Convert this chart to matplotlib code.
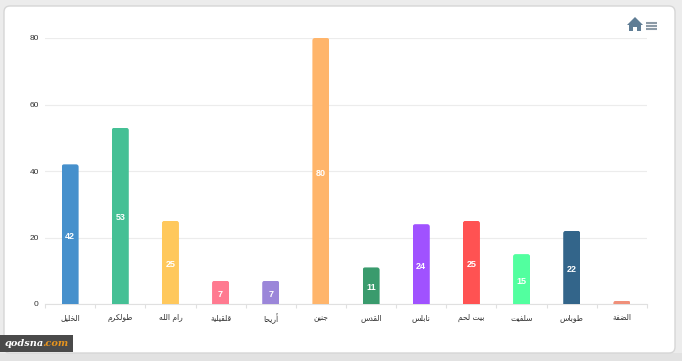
import matplotlib
matplotlib.use('Agg')
import matplotlib.pyplot as plt
from matplotlib.patches import FancyBboxPatch, Polygon, Rectangle
from matplotlib.path import Path

W, H = 682, 361

# chart data
cities = ['الخليل', 'طولكرم', 'رام الله', 'قلقيلية', 'أريحا', 'جنين', 'القدس',
          'نابلس', 'بيت لحم', 'سلفيت', 'طوباس', 'الضفة']
values = [42, 53, 25, 7, 7, 80, 11, 24, 25, 15, 22, 1]
bar_colors = ['#4690cc', '#45c095', '#ffc85c', '#ff7a90', '#9b86d9', '#ffb56b',
              '#3a9b6d', '#a052ff', '#ff5252', '#52ff9f', '#33658a', '#f0907a']
yticks = [0, 20, 40, 60, 80]

# presentation forms: isolated, final, initial, medial
forms = {
    'ا': 'ﺍﺎ', 'أ': 'ﺃﺄ', 'د': 'ﺩﺪ', 'ر': 'ﺭﺮ', 'و': 'ﻭﻮ', 'ة': 'ﺓﺔ',
    'ل': 'ﻝﻞﻟﻠ', 'خ': 'ﺥﺦﺧﺨ', 'ي': 'ﻱﻲﻳﻴ', 'ط': 'ﻁﻂﻃﻄ', 'ك': 'ﻙﻚﻛﻜ',
    'م': 'ﻡﻢﻣﻤ', 'ه': 'ﻩﻪﻫﻬ', 'ق': 'ﻕﻖﻗﻘ', 'ح': 'ﺡﺢﺣﺤ', 'ج': 'ﺝﺞﺟﺠ',
    'ن': 'ﻥﻦﻧﻨ', 'س': 'ﺱﺲﺳﺴ', 'ب': 'ﺏﺐﺑﺒ', 'ت': 'ﺕﺖﺗﺘ', 'ف': 'ﻑﻒﻓﻔ',
    'ض': 'ﺽﺾﺿﻀ',
}


def shape(word):
    # matplotlib does no arabic shaping, so pick the glyphs here
    out = []
    for i, c in enumerate(word):
        if c not in forms:
            out.append(c)
            continue
        prev = word[i - 1] if i > 0 else ' '
        nxt = word[i + 1] if i < len(word) - 1 else ' '
        joins_prev = prev in forms and len(forms[prev]) == 4
        joins_next = nxt in forms and len(forms[c]) == 4
        if joins_prev and joins_next:
            out.append(forms[c][3])
        elif joins_next:
            out.append(forms[c][2])
        elif joins_prev:
            out.append(forms[c][1])
        else:
            out.append(forms[c][0])
    return ''.join(out)[::-1]


fig = plt.figure(figsize=(W / 100, H / 100), dpi=100, facecolor='#ececec')

# page layer in pixel coordinates, origin top left
bg = fig.add_axes([0, 0, 1, 1], zorder=0)
bg.set_xlim(0, W)
bg.set_ylim(H, 0)
bg.axis('off')
bg.add_patch(Rectangle((0, 353), W, 8, fc='#e2e2e2', ec='none'))
bg.add_patch(FancyBboxPatch((8, 10), 663, 339, boxstyle='round,pad=4,rounding_size=6',
                            fc='white', ec='#d6d6d6', lw=1))

ax = fig.add_axes([45 / W, 1 - 304 / H, 602 / W, 266 / H], zorder=1)
ax.patch.set_alpha(0)
x = list(range(len(cities)))
bars = ax.bar(x, values, width=0.34, color=bar_colors, zorder=3)
ax.set_xlim(-0.5, len(cities) - 0.5)
ax.set_ylim(0, 80)

# round the top corners of each bar, 2.5 px radius
rx = 2.5 * len(cities) / 602
ry = 2.5 * 80 / 266
for b in bars:
    x0, x1 = b.get_x(), b.get_x() + b.get_width()
    top = b.get_height()
    r = min(ry, top)
    verts = [(x0, 0), (x0, top - r), (x0, top), (x0 + rx, top), (x1 - rx, top),
             (x1, top), (x1, top - r), (x1, 0), (x0, 0)]
    codes = [Path.MOVETO, Path.LINETO, Path.CURVE3, Path.CURVE3, Path.LINETO,
             Path.CURVE3, Path.CURVE3, Path.LINETO, Path.CLOSEPOLY]
    b.set_clip_path(Path(verts, codes), ax.transData)

for i, v in zip(x, values):
    if v > 1:
        t = ax.annotate(str(v), (i, v / 2), xytext=(0, -1.5), textcoords='offset points',
                        color='white', fontsize=6.5, fontweight='bold',
                        family='Liberation Sans', ha='center', va='center', zorder=4)

ax.set_yticks(yticks)
ax.set_yticklabels(yticks, fontsize=6, family='Liberation Sans', color='#333333')
ax.set_xticks([i - 0.5 for i in range(len(cities) + 1)], minor=True)
ax.set_xticks(x)
ax.set_xticklabels([shape(c) for c in cities], fontsize=5.5, color='#333333',
                   family='DejaVu Sans')
ax.tick_params(axis='y', length=0, pad=4.5)
ax.tick_params(axis='x', which='major', length=0, pad=6.5)
ax.tick_params(axis='x', which='minor', length=3, color='#e0e0e0', width=0.8)
ax.grid(axis='y', color='#ececec', lw=0.8, zorder=0)
ax.set_axisbelow(True)
for s in ['top', 'left', 'right']:
    ax.spines[s].set_visible(False)
ax.spines['bottom'].set_color('#e0e0e0')
ax.spines['bottom'].set_linewidth(0.8)

# toolbar icons and watermark on top
top = fig.add_axes([0, 0, 1, 1], zorder=2)
top.set_xlim(0, W)
top.set_ylim(H, 0)
top.axis('off')
icon = '#5f7d95'
top.add_patch(Polygon([(627, 25), (635, 17), (643, 25), (641, 25), (641, 31), (637, 31),
                       (637, 27), (633, 27), (633, 31), (629, 31), (629, 25)],
                      fc=icon, ec='none'))
for yy in [22.5, 25.5, 28.5]:
    top.plot([646, 657], [yy, yy], color='#8c9aa6', lw=1.5, solid_capstyle='butt')
top.add_patch(Rectangle((0, 335), 73, 17, fc='#4a4a4a', ec='none'))
top.text(5, 344, 'qodsna', color='white', fontsize=7, fontweight='bold',
         style='italic', family='DejaVu Serif', va='center', ha='left')
top.text(42, 344, '.com', color='#e8951e', fontsize=7, fontweight='bold',
         style='italic', family='DejaVu Serif', va='center', ha='left')

fig.savefig('out.png', dpi=100, facecolor=fig.get_facecolor())
